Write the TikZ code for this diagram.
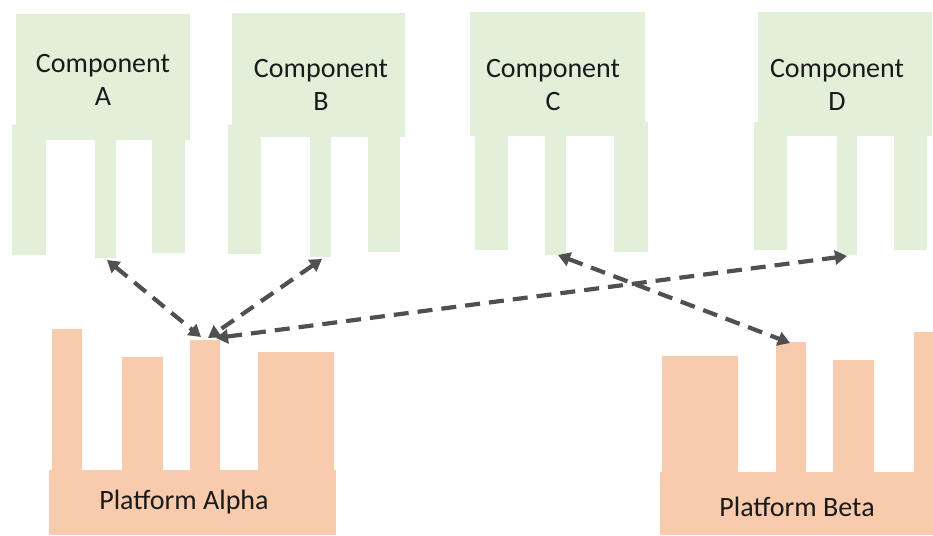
\documentclass[tikz,border=0pt]{standalone}
\usepackage{fontspec}
\setmainfont{Carlito}
\usetikzlibrary{arrows.meta}
\definecolor{compgreen}{HTML}{E2F0D9}
\definecolor{platorange}{HTML}{F8CBAD}
\definecolor{arrowgray}{HTML}{505050}
\definecolor{txt}{HTML}{1A1A1A}
\tikzset{
  comp/.style={fill=compgreen},
  plat/.style={fill=platorange},
  lbl/.style={font=\fontsize{28}{33}\selectfont, text=txt, align=center, inner sep=0pt},
  link/.style={draw=arrowgray, line width=4.2pt, dash pattern=on 15pt off 9pt,
    {Triangle[length=12pt,width=14pt]}-{Triangle[length=12pt,width=14pt]}}
}
\begin{document}
\begin{tikzpicture}[x=1pt,y=-1pt]
\useasboundingbox (0,0) rectangle (933,535);
\fill[white] (0,0) rectangle (933,535);
% Component A
\fill[comp] (16,14) rectangle (190,140);
\fill[comp] (12,125) rectangle (46,255);
\fill[comp] (95,138) rectangle (116,258);
\fill[comp] (152,125) rectangle (185,253);
% Component B
\fill[comp] (232,13) rectangle (405,137);
\fill[comp] (228,125) rectangle (261,254);
\fill[comp] (310,135) rectangle (331,257);
\fill[comp] (368,125) rectangle (400,252);
% Component C
\fill[comp] (470,12) rectangle (645,136);
\fill[comp] (475,122) rectangle (508,250);
\fill[comp] (545,134) rectangle (566,255);
\fill[comp] (614,122) rectangle (648,252);
% Component D
\fill[comp] (758,12) rectangle (932,136);
\fill[comp] (754,122) rectangle (787,250);
\fill[comp] (837,134) rectangle (857,255);
\fill[comp] (894,122) rectangle (927,250);
% Platform Alpha
\fill[plat] (49,470) rectangle (336,535);
\fill[plat] (52,329) rectangle (82,472);
\fill[plat] (122,357) rectangle (163,472);
\fill[plat] (190,340) rectangle (220,472);
\fill[plat] (258,352) rectangle (334,472);
% Platform Beta
\fill[plat] (660,472) rectangle (933,535);
\fill[plat] (662,356) rectangle (738,474);
\fill[plat] (776,342) rectangle (806,474);
\fill[plat] (833,360) rectangle (874,474);
\fill[plat] (914,332) rectangle (933,474);
% Labels
\node[lbl] (lA) at (103,80) {Component\\A};
\node[lbl] (lB) at (321,85) {Component\\B};
\node[lbl] (lC) at (553,85) {Component\\C};
\node[lbl] (lD) at (837,85) {Component\\D};
\node[lbl] (lAlpha) at (184,502) {Platform Alpha};
\node[lbl] (lBeta) at (797,507) {Platform Beta};
% Connector end points
\coordinate (legA) at (107,260);
\coordinate (legB) at (322,259);
\coordinate (legC) at (558,255);
\coordinate (legD) at (847,256);
\coordinate (alphaL) at (201,337);
\coordinate (alphaM) at (208,338);
\coordinate (alphaR) at (216,338);
\coordinate (betaP) at (790,343);
% Connectors
\draw[link] (legA) -- (alphaL);
\draw[link] (legB) -- (alphaM);
\draw[link] (alphaR) -- (legD);
\draw[link] (legC) -- (betaP);
\end{tikzpicture}
\end{document}
